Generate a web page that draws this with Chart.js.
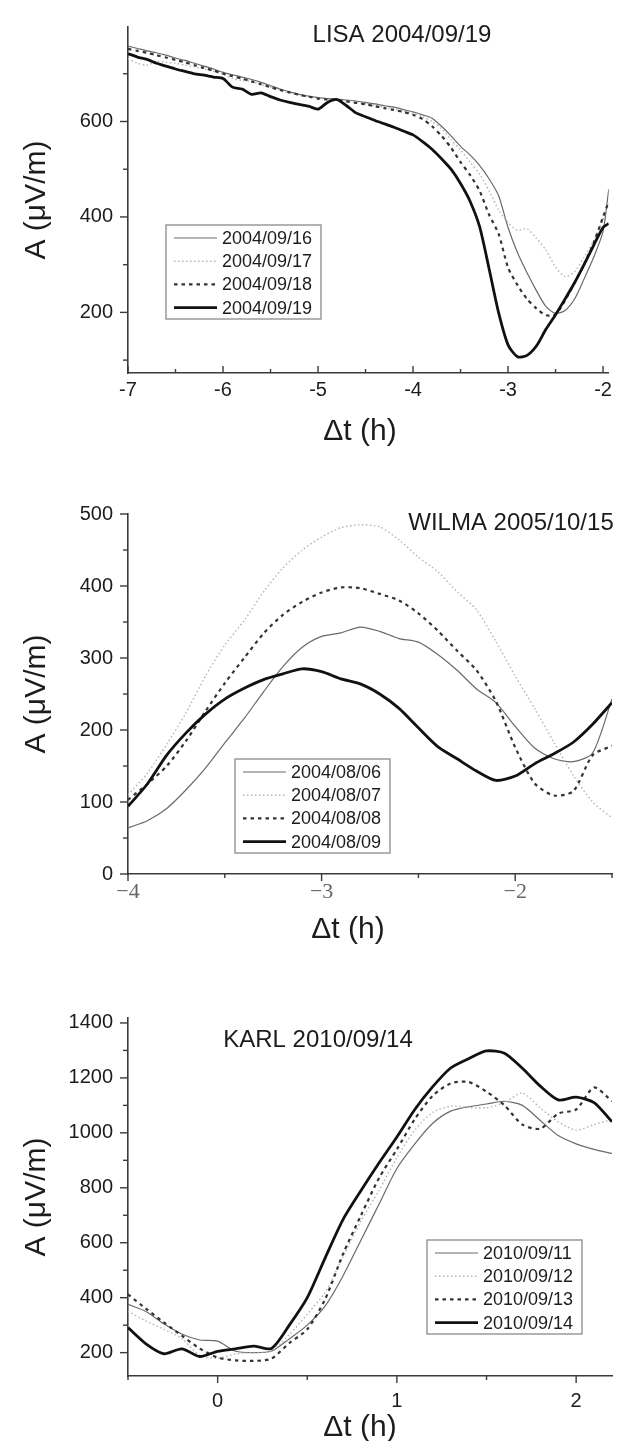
<!DOCTYPE html>
<html>
<head>
<meta charset="utf-8">
<script src="https://cdn.jsdelivr.net/npm/chart.js@4.4.1/dist/chart.umd.min.js"></script>
<style>
  html, body { margin: 0; padding: 0; background: #fff; width: 617px; height: 1441px; overflow: hidden; position: relative; }
  canvas { position: absolute; left: 0; }
</style>
</head>
<body>
<canvas id="lisaChart" width="617" height="465" style="top:0"></canvas>
<canvas id="wilmaChart" width="617" height="480" style="top:470px"></canvas>
<canvas id="karlChart" width="617" height="500" style="top:950px"></canvas>
<script>
// LISA 2004/09/19 — amplitude before the storm, four days
var lisaT = [-7.0, -6.9, -6.8, -6.7, -6.6, -6.5, -6.4, -6.3, -6.2, -6.1,
             -6.0, -5.9, -5.8, -5.7, -5.6, -5.5, -5.4, -5.3, -5.2, -5.1,
             -5.0, -4.9, -4.8, -4.7, -4.6, -4.5, -4.4, -4.3, -4.2, -4.1,
             -4.0, -3.9, -3.8, -3.7, -3.6, -3.5, -3.4, -3.3, -3.2, -3.1,
             -3.0, -2.9, -2.8, -2.7, -2.6, -2.5, -2.4, -2.3, -2.2, -2.1,
             -2.0, -1.94];
var lisa16 = [758, 753, 748, 744, 739, 733, 728, 722, 716, 710,
              703, 698, 693, 688, 682, 675, 668, 662, 657, 653,
              650, 648, 647, 645, 643, 640, 637, 633, 630, 625,
              620, 614, 607, 590, 570, 548, 530, 508, 480, 445,
              378, 325, 283, 245, 212, 198, 204, 228, 270, 315,
              370, 458];
var lisa17 = [732, 722, 718, 726, 724, 722, 718, 714, 710, 705,
              700, 690, 686, 684, 677, 672, 666, 660, 656, 652,
              649, 646, 645, 643, 640, 637, 633, 630, 626, 622,
              617, 610, 600, 585, 562, 540, 515, 490, 455, 415,
              388, 372, 375, 355, 330, 295, 275, 285, 315, 350,
              395, 428];
var lisa18 = [752, 748, 744, 739, 734, 729, 724, 718, 712, 707,
              700, 695, 690, 684, 678, 672, 666, 661, 656, 652,
              648, 646, 645, 642, 639, 636, 632, 628, 624, 620,
              614, 605, 590, 570, 545, 515, 488, 455, 405, 365,
              294, 257, 228, 208, 194, 196, 225, 262, 300, 345,
              400, 432];
var lisa19 = [742, 735, 730, 722, 716, 710, 705, 700, 697, 693,
              690, 672, 668, 657, 660, 652, 645, 640, 636, 632,
              626, 640, 646, 633, 618, 610, 602, 595, 588, 580,
              572, 558, 542, 522, 500, 470, 433, 380, 292, 200,
              132, 107, 110, 130, 165, 195, 228, 262, 300, 340,
              378, 386];
var lisaLabels = ['2004/09/16', '2004/09/17', '2004/09/18', '2004/09/19'];
var lisaXTicks = [-7, -6.5, -6, -5.5, -5, -4.5, -4, -3.5, -3, -2.5, -2];
var lisaYTicks = [100, 200, 300, 400, 500, 600, 700];

// WILMA 2005/10/15
var wilmaT = [-4.0, -3.9, -3.8, -3.7, -3.6, -3.5, -3.4, -3.3, -3.2, -3.1,
              -3.0, -2.9, -2.8, -2.7, -2.6, -2.5, -2.4, -2.3, -2.2, -2.1,
              -2.0, -1.9, -1.8, -1.7, -1.6, -1.5];
var wilma06 = [64, 74, 91, 117, 147, 182, 216, 253, 288, 315,
               330, 335, 343, 337, 327, 322, 305, 283, 257, 238,
               205, 175, 160, 156, 168, 243];
var wilma07 = [110, 140, 180, 224, 275, 318, 352, 392, 425, 450,
               468, 481, 485, 482, 464, 440, 420, 392, 367, 323,
               275, 230, 183, 137, 100, 78];
var wilma08 = [103, 125, 150, 185, 226, 265, 300, 334, 360, 378,
               391, 398, 397, 389, 380, 362, 338, 310, 283, 240,
               176, 126, 109, 115, 165, 178];
var wilma09 = [94, 125, 165, 196, 222, 243, 258, 270, 278, 285,
               281, 271, 264, 250, 230, 203, 177, 160, 143, 130,
               136, 153, 167, 183, 208, 238];
var wilmaLabels = ['2004/08/06', '2004/08/07', '2004/08/08', '2004/08/09'];
var wilmaXTicks = [-4, -3.5, -3, -2.5, -2, -1.5];
var wilmaYTicks = [0, 50, 100, 150, 200, 250, 300, 350, 400, 450, 500];

// KARL 2010/09/14
var karlT = [-0.5, -0.4, -0.3, -0.2, -0.1, 0.0, 0.1, 0.2, 0.3, 0.4,
             0.5, 0.6, 0.7, 0.8, 0.9, 1.0, 1.1, 1.2, 1.3, 1.4,
             1.5, 1.6, 1.7, 1.8, 1.9, 2.0, 2.1, 2.2];
var karl11 = [376, 350, 305, 268, 246, 242, 205, 200, 205, 250,
              300, 370, 480, 610, 740, 870, 960, 1035, 1079, 1095,
              1105, 1115, 1100, 1045, 990, 960, 940, 925];
var karl12 = [351, 315, 285, 252, 190, 180, 195, 200, 206, 265,
              340, 420, 550, 680, 790, 910, 1010, 1075, 1097, 1092,
              1091, 1110, 1145, 1090, 1040, 1010, 1030, 1048];
var karl13 = [412, 360, 310, 262, 215, 182, 172, 170, 178, 235,
              285, 395, 560, 700, 835, 940, 1050, 1135, 1180, 1185,
              1150, 1100, 1030, 1015, 1070, 1085, 1165, 1115];
var karl14 = [291, 232, 196, 214, 186, 205, 214, 224, 215, 300,
              400, 545, 685, 790, 890, 985, 1085, 1168, 1236, 1270,
              1298, 1290, 1235, 1170, 1120, 1130, 1110, 1040];
var karlLabels = ['2010/09/11', '2010/09/12', '2010/09/13', '2010/09/14'];
var karlXTicks = [-0.5, 0, 0.5, 1, 1.5, 2];
var karlYTicks = [200, 300, 400, 500, 600, 700, 800, 900, 1000, 1100, 1200, 1300, 1400];

var FONT = '"Liberation Sans", Arial, sans-serif';
var INK = '#1c1c1c';

// same four line looks in every panel: thin grey, light dotted, dark dashed, thick black
var lineStyles = [
    { borderColor: '#6a6a6a', borderWidth: 1.2, borderDash: [], order: 3 },
    { borderColor: '#b4b4b4', borderWidth: 1.4, borderDash: [1.5, 2.5], order: 2 },
    { borderColor: '#333333', borderWidth: 2.2, borderDash: [3.5, 4], order: 1 },
    { borderColor: '#111111', borderWidth: 2.8, borderDash: [], order: 0 }
];

function isMultiple(v, step) {
    var r = v / step;
    return Math.abs(r - Math.round(r)) < 1e-6;
}

function points(ts, ys) {
    return ts.map(function (t, i) { return { x: t, y: ys[i] }; });
}

// tick marks, in-plot title, x-axis title and the boxed legend
var panelDecor = {
    id: 'panelDecor',
    afterDraw: function (chart, args, o) {
        var ctx = chart.ctx, area = chart.chartArea;
        var xs = chart.scales.x, ys = chart.scales.y;
        ctx.save();
        ctx.strokeStyle = '#3a3a3a';
        ctx.lineWidth = 1.4;
        ys.ticks.forEach(function (t) {
            var py = ys.getPixelForValue(t.value);
            var len = isMultiple(t.value, o.yMajor) ? 8 : 5;
            ctx.beginPath(); ctx.moveTo(area.left - len, py); ctx.lineTo(area.left, py); ctx.stroke();
        });
        xs.ticks.forEach(function (t) {
            var px = xs.getPixelForValue(t.value);
            var len = isMultiple(t.value, o.xMajor) ? 7 : 4;
            ctx.beginPath(); ctx.moveTo(px, area.bottom); ctx.lineTo(px, area.bottom + o.xTickDir * len); ctx.stroke();
        });

        ctx.fillStyle = INK;
        ctx.textAlign = 'center';
        ctx.textBaseline = 'middle';
        ctx.font = '24px ' + FONT;
        ctx.fillText(o.title.text, o.title.x, o.title.y);
        ctx.font = '30px ' + FONT;
        ctx.fillText('\u0394t (h)', o.xTitle.x, o.xTitle.y);

        var L = o.legend;
        ctx.strokeStyle = '#8a8a8a';
        ctx.lineWidth = 1.3;
        ctx.strokeRect(L.left, L.top, 155, 94);
        ctx.font = '18px ' + FONT;
        ctx.textAlign = 'left';
        chart.data.datasets.forEach(function (ds, i) {
            var ry = L.top + 13 + i * 23.2;
            ctx.save();
            ctx.strokeStyle = ds.borderColor;
            ctx.lineWidth = ds.borderWidth;
            ctx.setLineDash(ds.borderDash || []);
            ctx.beginPath(); ctx.moveTo(L.left + 8, ry); ctx.lineTo(L.left + 51, ry); ctx.stroke();
            ctx.restore();
            ctx.fillText(ds.label, L.left + 56, ry + 1);
        });
        ctx.restore();
    }
};

function makePanel(id, p) {
    var datasets = p.series.map(function (ys, i) {
        var s = lineStyles[i];
        return {
            label: p.labels[i],
            data: points(p.t, ys),
            borderColor: s.borderColor,
            borderWidth: s.borderWidth,
            borderDash: s.borderDash,
            order: s.order,
            fill: false
        };
    });
    return new Chart(document.getElementById(id).getContext('2d'), {
        type: 'line',
        data: { datasets: datasets },
        plugins: [panelDecor],
        options: {
            responsive: false,
            animation: false,
            devicePixelRatio: 1,
            layout: { padding: { top: p.padTop, right: 5, left: 0, bottom: 0 } },
            elements: { point: { radius: 0 }, line: { tension: 0.25 } },
            plugins: {
                legend: { display: false },
                tooltip: { enabled: false },
                panelDecor: {
                    xMajor: 1, yMajor: p.yMajor, xTickDir: p.xTickDir,
                    title: p.title, xTitle: p.xTitle, legend: p.legend
                }
            },
            scales: {
                x: {
                    type: 'linear', min: p.xMin, max: p.xMax,
                    afterBuildTicks: function (s) { s.ticks = p.xTicks.map(function (v) { return { value: v }; }); },
                    afterFit: function (s) { s.height = p.xAxisHeight; },
                    grid: { display: false, drawTicks: false },
                    border: { display: true, color: '#3a3a3a', width: 1.6 },
                    ticks: {
                        autoSkip: false, maxRotation: 0, padding: p.xTickPad,
                        color: p.xTickColor || INK,
                        font: { family: p.xTickFamily || FONT, size: p.xTickSize || 20 },
                        callback: function (v) { return isMultiple(v, 1) ? p.xFormat(v) : ''; }
                    }
                },
                y: {
                    type: 'linear', min: p.yMin, max: p.yMax,
                    afterBuildTicks: function (s) { s.ticks = p.yTicks.map(function (v) { return { value: v }; }); },
                    afterFit: function (s) { s.width = 128; },
                    grid: { display: false, drawTicks: false },
                    border: { display: true, color: '#3a3a3a', width: 1.6 },
                    ticks: {
                        autoSkip: false, padding: 15, color: INK,
                        font: { family: FONT, size: 20 },
                        callback: function (v) { return isMultiple(v, p.yMajor) ? String(v) : ''; }
                    },
                    title: {
                        display: true, text: 'A (\u03BCV/m)', color: INK,
                        font: { family: FONT, size: 30 }, padding: { top: 19, bottom: 0 }
                    }
                }
            }
        }
    });
}

makePanel('lisaChart', {
    t: lisaT, series: [lisa16, lisa17, lisa18, lisa19], labels: lisaLabels,
    xMin: -7, xMax: -1.94, yMin: 73, yMax: 798, xTicks: lisaXTicks, yTicks: lisaYTicks, yMajor: 200,
    padTop: 13, xAxisHeight: 92, xTickPad: 5, xTickDir: -1,
    xFormat: function (v) { return String(v); },
    title: { text: 'LISA 2004/09/19', x: 402, y: 35 },
    xTitle: { x: 360, y: 432 },
    legend: { left: 166, top: 225 }
});

makePanel('wilmaChart', {
    t: wilmaT, series: [wilma06, wilma07, wilma08, wilma09], labels: wilmaLabels,
    xMin: -4, xMax: -1.5, yMin: 0, yMax: 500, xTicks: wilmaXTicks, yTicks: wilmaYTicks, yMajor: 100,
    padTop: 44, xAxisHeight: 76, xTickPad: 5, xTickDir: 1,
    xTickFamily: '"Liberation Serif", "DejaVu Serif", serif', xTickSize: 22, xTickColor: '#666',
    xFormat: function (v) { return '\u2212' + Math.abs(v); },
    title: { text: 'WILMA 2005/10/15', x: 511, y: 53 },
    xTitle: { x: 348, y: 460 },
    legend: { left: 235, top: 289 }
});

makePanel('karlChart', {
    t: karlT, series: [karl11, karl12, karl13, karl14], labels: karlLabels,
    xMin: -0.5, xMax: 2.2, yMin: 115, yMax: 1418, xTicks: karlXTicks, yTicks: karlYTicks, yMajor: 200,
    padTop: 68, xAxisHeight: 74, xTickPad: 13, xTickDir: 1,
    xFormat: function (v) { return String(v); },
    title: { text: 'KARL 2010/09/14', x: 318, y: 90 },
    xTitle: { x: 360, y: 478 },
    legend: { left: 427, top: 290 }
});
</script>
</body>
</html>
